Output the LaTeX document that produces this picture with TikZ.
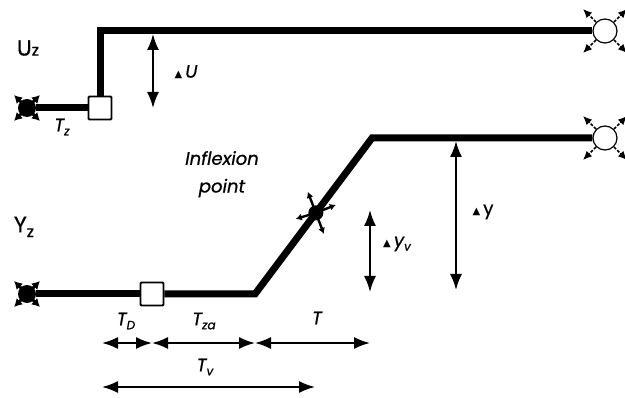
\documentclass[tikz,border=0pt]{standalone}
\usepackage{fontspec}
\setmainfont{Poppins}[FakeBold=0.8]
\newfontfamily\symf{DejaVu Sans}
\usetikzlibrary{arrows.meta,calc}
\newcommand{\tri}{{\symf\fontsize{10}{10}\selectfont ▲}}
\begin{document}
\begin{tikzpicture}[x=1pt,y=-1pt,
  main/.style={line width=7pt},
  dimarrow/.style={line width=1.8pt,{Latex[length=16pt,width=12pt]}-{Latex[length=16pt,width=12pt]}},
  box/.style={draw, line width=1.8pt, fill=white, minimum size=23pt, inner sep=0pt, rounded corners=1pt},
  srcdot/.style={circle, fill=black, minimum size=18pt, inner sep=0pt},
  sinkc/.style={circle, draw, line width=1.2pt, minimum size=24pt, inner sep=0pt},
  spoke/.style={line width=3pt,-{Latex[length=8pt,width=9pt]}},
  ray/.style={line width=1.5pt,dash pattern=on 3pt off 1.5pt,-{Latex[length=9pt,width=8pt]}},
  lbl/.style={font=\fontsize{18}{18}\selectfont\itshape, inner sep=0pt},
  big/.style={font=\fontsize{22}{22}\selectfont, inner sep=0pt}]
\useasboundingbox (0,0) rectangle (625,398);
% upper signal u
\node[srcdot] (src1) at (27,108) {};
\foreach \dx/\dy in {1/1,1/-1,-1/1,-1/-1}
  \draw[spoke] (src1.center) -- ++(13*\dx,13*\dy);
\node[box] (b1) at (100,108) {};
\node[sinkc] (s1) at (605,31) {};
\foreach \dx/\dy in {1/1,1/-1,-1/1,-1/-1}
  \draw[ray] ($(s1.center)+(9*\dx,9*\dy)$) -- ++(13*\dx,13*\dy);
\draw[main] (src1) -- (b1);
\draw[main] (b1.north) |- (s1.west);
% lower signal y
\node[srcdot] (src2) at (27,294) {};
\foreach \dx/\dy in {1/1,1/-1,-1/1,-1/-1}
  \draw[spoke] (src2.center) -- ++(13*\dx,13*\dy);
\node[box] (b2) at (152,294) {};
\coordinate (c1) at (255,294);
\coordinate (c2) at (372,138);
\node[sinkc] (s2) at (605,138) {};
\foreach \dx/\dy in {1/1,1/-1,-1/1,-1/-1}
  \draw[ray] ($(s2.center)+(9*\dx,9*\dy)$) -- ++(13*\dx,13*\dy);
\draw[main] (src2) -- (b2);
\draw[main,line join=miter] (b2) -- (c1) -- (c2) -- (s2.west);
% inflexion point
\node[srcdot, minimum size=15pt] (ip) at ($(c1)!0.52!(c2)$) {};
\foreach \dx/\dy in {-8/-21,20/-8,-20/6,8/21}
  \draw[line width=2.4pt,-{Latex[length=6pt,width=7pt]}] (ip.center) -- ++(\dx,\dy);
% vertical arrows
\coordinate (u0) at (153,34);
\coordinate (u1) at (153,108);
\draw[dimarrow] (u0) -- (u1);
\coordinate (y0) at (456,141);
\coordinate (y1) at (456,290);
\draw[dimarrow] (y0) -- (y1);
\coordinate (v0) at (370,210);
\coordinate (v1) at (370,292);
\draw[dimarrow] (v0) -- (v1);
% horizontal dimension arrows
\coordinate (d0) at (102,343);
\coordinate (d1) at (152,343);
\coordinate (d2) at (255,343);
\coordinate (d3) at (370,343);
\coordinate (e0) at (102,387);
\coordinate (e1) at (315,387);
\draw[dimarrow] (d0) -- (d1);
\draw[dimarrow] (d1) -- (d2);
\draw[dimarrow] (d2) -- (d3);
\draw[dimarrow] (e0) -- (e1);
% labels
\node[big] (lu) at (28,48) {U{\fontsize{16}{16}\selectfont z}};
\node[big] (ly) at (24,227) {Y\raisebox{-5pt}{\fontsize{16}{16}\selectfont z}};
\node[lbl] (ltz) at (62,127) {T\raisebox{-4pt}{\fontsize{12}{12}\selectfont z}};
\node[lbl] (ldu) at (186,72) {\tri\,U};
\node[lbl] (lin1) at (222,158) {Inflexion};
\node[lbl] (lin2) at (222,188) {point};
\node[lbl, font=\fontsize{18}{18}\selectfont] (ldy) at (483,212) {\tri\,y};
\node[lbl] (ldyv) at (397,244) {\tri\,y\raisebox{-4pt}{\fontsize{12}{12}\selectfont v}};
\node[lbl] (ltd) at (126,321) {T\raisebox{-4pt}{\fontsize{12}{12}\selectfont D}};
\node[lbl] (ltza) at (204,321) {T\raisebox{-4pt}{\fontsize{12}{12}\selectfont za}};
\node[lbl] (lt) at (317,318) {T};
\node[lbl] (ltv) at (205,367) {T\raisebox{-4pt}{\fontsize{12}{12}\selectfont v}};
\end{tikzpicture}
\end{document}
